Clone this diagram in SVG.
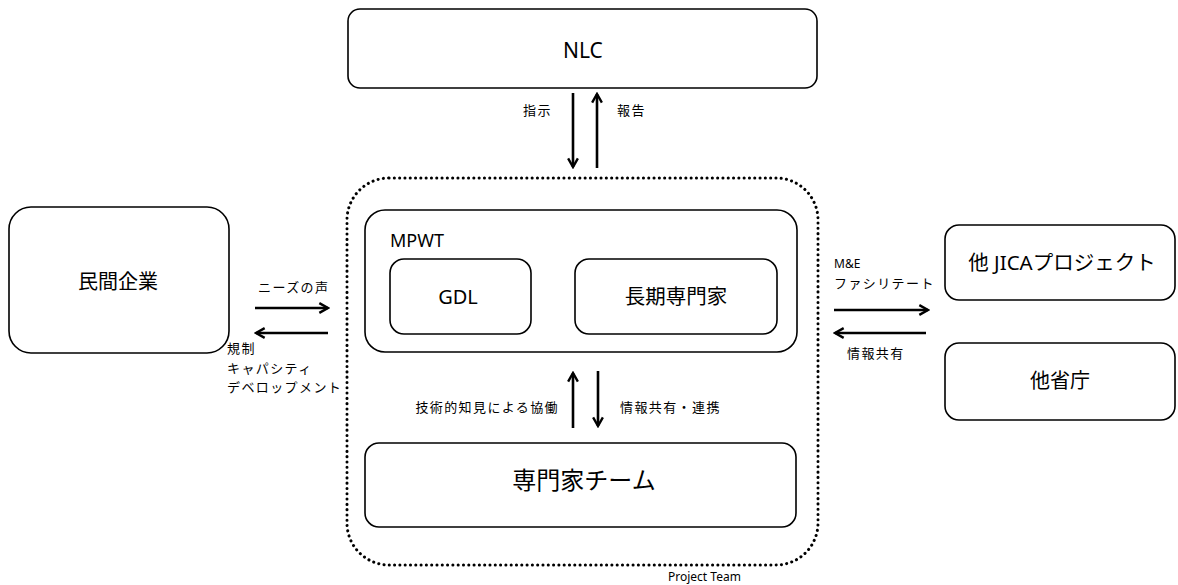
<svg xmlns="http://www.w3.org/2000/svg" width="1178" height="585" viewBox="0 0 1178 585">
  <defs>
    <style>
      .box { fill: #fff; stroke: #000; stroke-width: 1.6; }
      .team { fill: none; stroke: #000; stroke-width: 3; stroke-dasharray: 0.1 5.2; stroke-linecap: round; }
      .t { font-family: "Noto Sans", "Noto Sans CJK JP", sans-serif; fill: #000; }
      .lbl { font-family: "Noto Sans CJK JP", "Noto Sans", sans-serif; font-size: 13px; letter-spacing: 1.4px; fill: #000; }
      .arr { stroke: #000; stroke-width: 2.6; fill: none; marker-end: url(#head); }
    </style>
    <marker id="head" viewBox="0 0 12 12" refX="10" refY="6" markerWidth="5" markerHeight="5" orient="auto" markerUnits="strokeWidth">
      <polyline points="2,1.5 10,6 2,10.5" fill="none" stroke="#000" stroke-width="2.2"/>
    </marker>
  </defs>

  <rect x="0" y="0" width="1178" height="585" fill="#fff"/>

  <!-- project team boundary -->
  <g id="project-team">
    <rect class="team" x="347" y="178" width="471" height="387" rx="42" ry="42"/>
    <text class="t" x="668" y="581" font-size="12">Project Team</text>
  </g>

  <g id="nlc">
    <rect class="box" x="348" y="9" width="469" height="79" rx="12"/>
    <text class="t" x="583" y="58" font-size="21" text-anchor="middle">NLC</text>
  </g>

  <g id="mpwt">
    <rect class="box" x="365" y="210" width="432" height="142" rx="20"/>
    <text class="t" x="390" y="247" font-size="18">MPWT</text>
  </g>

  <g id="gdl">
    <rect class="box" x="390" y="259" width="141" height="75" rx="14"/>
    <text class="t" x="458" y="304" font-size="20" text-anchor="middle">GDL</text>
  </g>

  <g id="long-term-expert">
    <rect class="box" x="575" y="259" width="202" height="75" rx="14"/>
    <text class="t" x="676" y="304" font-size="20.5" text-anchor="middle">長期専門家</text>
  </g>

  <g id="expert-team">
    <rect class="box" x="365" y="443" width="431" height="84" rx="14"/>
    <text class="t" x="584" y="489" font-size="24" text-anchor="middle">専門家チーム</text>
  </g>

  <g id="private-sector">
    <rect class="box" x="9" y="207" width="220" height="146" rx="22"/>
    <text class="t" x="118" y="289" font-size="20" text-anchor="middle">民間企業</text>
  </g>

  <g id="other-jica">
    <rect class="box" x="945" y="225" width="230" height="75" rx="14"/>
    <text class="t" x="1062" y="270" font-size="20.5" text-anchor="middle">他 JICAプロジェクト</text>
  </g>

  <g id="other-ministries">
    <rect class="box" x="945" y="343" width="230" height="77" rx="14"/>
    <text class="t" x="1060" y="388" font-size="20" text-anchor="middle">他省庁</text>
  </g>

  <!-- connectors -->
  <g id="connectors">
    <line class="arr" x1="573" y1="93" x2="573" y2="167"/>
    <line class="arr" x1="597" y1="168" x2="597" y2="94"/>
    <text class="lbl" x="523" y="115">指示</text>
    <text class="lbl" x="617" y="115">報告</text>

    <line class="arr" x1="573" y1="428" x2="573" y2="373"/>
    <line class="arr" x1="598" y1="371" x2="598" y2="426"/>
    <text class="lbl" x="559" y="412" text-anchor="end">技術的知見による協働</text>
    <text class="lbl" x="620" y="412">情報共有・連携</text>

    <line class="arr" x1="255" y1="308" x2="328" y2="308"/>
    <line class="arr" x1="328" y1="333" x2="256" y2="333"/>
    <text class="lbl" x="258" y="292">ニーズの声</text>
    <text class="lbl" x="227" y="353">規制</text>
    <text class="lbl" x="227" y="373">キャパシティ</text>
    <text class="lbl" x="227" y="392">デベロップメント</text>

    <line class="arr" x1="834" y1="310" x2="928" y2="310"/>
    <line class="arr" x1="926" y1="333" x2="835" y2="333"/>
    <text class="t" x="834" y="268" font-size="12">M&amp;E</text>
    <text class="lbl" x="834" y="288">ファシリテート</text>
    <text class="lbl" x="847" y="358">情報共有</text>
  </g>
</svg>
